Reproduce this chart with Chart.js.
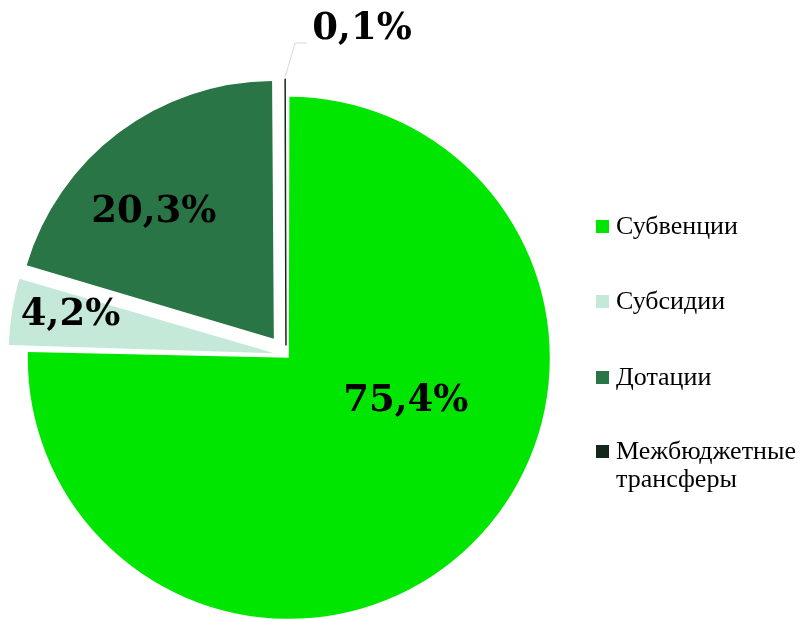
<!DOCTYPE html>
<html lang="ru">
<head>
<meta charset="utf-8">
<script src="https://cdn.jsdelivr.net/npm/chart.js@4/dist/chart.umd.min.js"></script>
<style>
  html, body { margin: 0; padding: 0; background: #fff; }
  #wrap { position: relative; width: 805px; height: 619px; }
  #legend { position: absolute; left: 596px; top: 0; font-family: "Liberation Serif", "Times New Roman", serif; font-size: 26px; color: #000; }
  .item { position: absolute; left: 0; display: flex; align-items: flex-start; white-space: nowrap; line-height: 28px; }
  .box { width: 13px; height: 13px; margin-top: 8px; margin-right: 7px; flex: none; }
</style>
</head>
<body>
<div id="wrap">
  <canvas id="pie"></canvas>
  <div id="legend"></div>
</div>
<script>
// данные диаграммы
const categories = ['Субвенции', 'Субсидии', 'Дотации', 'Межбюджетные трансферы'];
const shares = [75.4, 4.2, 20.3, 0.1];
const sliceColors = ['#00e600', '#c5e9d9', '#297545', '#12281a'];

// выдвижение секторов и положение подписей (угол в градусах, доля радиуса)
const sliceOffsets = [16, 47, 81, 38];
const labelAngle = [-25.5, 1.4, -6.5, 13.7];
const labelRadius = [0.478, 0.78, 0.677, 1.222];
const legendTops = [212, 287, 363, 437];

const fmt = v => v.toFixed(1).replace('.', ',') + '%';

// подписи значений на секторах
const sliceLabels = {
    id: 'sliceLabels',
    afterDatasetsDraw(chart) {
        const ctx = chart.ctx;
        const meta = chart.getDatasetMeta(0);
        ctx.save();
        ctx.font = 'bold 37px "DejaVu Serif"';
        ctx.fillStyle = '#000';
        ctx.textAlign = 'center';
        ctx.textBaseline = 'middle';
        meta.data.forEach((arc, i) => {
            const p = arc.getProps(['x', 'y', 'startAngle', 'endAngle', 'outerRadius']);
            const half = (p.startAngle + p.endAngle) / 2;
            const shift = (arc.options.offset || 0) / 4;
            const cx = p.x + Math.cos(half) * shift;
            const cy = p.y + Math.sin(half) * shift;
            const r = p.outerRadius + shift * (1 - Math.sin(Math.min(Math.PI, p.endAngle - p.startAngle)));
            const a = half + labelAngle[i] * Math.PI / 180;
            const lx = cx + Math.cos(a) * r * labelRadius[i];
            const ly = cy + Math.sin(a) * r * labelRadius[i];
            if (labelRadius[i] > 1) {
                // выноска для маленького сектора
                ctx.strokeStyle = '#d9d9d9';
                ctx.lineWidth = 1;
                ctx.beginPath();
                ctx.moveTo(cx + Math.cos(half) * (r + 2), cy + Math.sin(half) * (r + 2));
                ctx.lineTo(lx - 67, ly + 14);
                ctx.lineTo(lx - 55, ly + 14);
                ctx.stroke();
            }
            ctx.fillText(fmt(shares[i]), lx, ly);
        });
        ctx.restore();
    }
};

new Chart(document.getElementById('pie'), {
    type: 'pie',
    data: {
        labels: categories,
        datasets: [{
            data: shares,
            backgroundColor: sliceColors,
            borderColor: sliceColors,
            borderWidth: [0, 0, 0, 1.5], // тонкий сектор иначе почти не виден
            offset: sliceOffsets,
            clip: false
        }]
    },
    options: {
        responsive: true,
        maintainAspectRatio: false,
        animation: false,
        radius: 257,
        layout: { padding: { top: 91, right: 233, bottom: 0, left: 0 } },
        plugins: {
            legend: { display: false },
            tooltip: { enabled: false }
        }
    },
    plugins: [sliceLabels]
});

// легенда справа
const legend = document.getElementById('legend');
categories.forEach((name, i) => {
    const item = document.createElement('div');
    item.className = 'item';
    item.style.top = legendTops[i] + 'px';
    const box = document.createElement('span');
    box.className = 'box';
    box.style.background = sliceColors[i];
    const text = document.createElement('span');
    text.innerHTML = name.replace(' ', '<br>');
    item.appendChild(box);
    item.appendChild(text);
    legend.appendChild(item);
});
</script>
</body>
</html>
